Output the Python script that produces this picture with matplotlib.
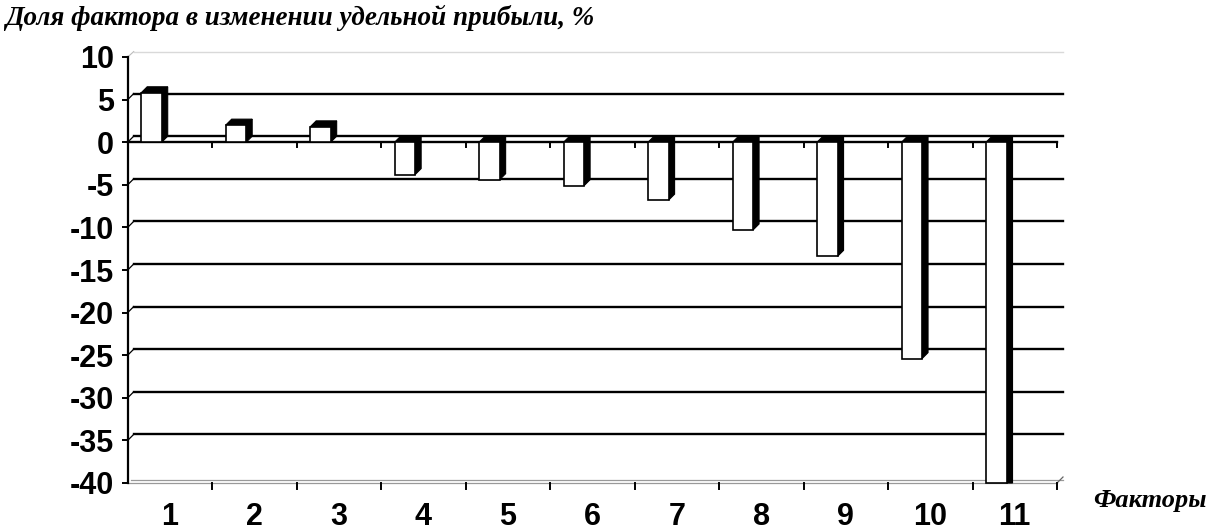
import matplotlib
matplotlib.use("Agg")
import matplotlib.pyplot as plt
from matplotlib.patches import Polygon, Rectangle
import numpy as np

# ---- data ----
categories = ["1", "2", "3", "4", "5", "6", "7", "8", "9", "10", "11"]
values = [5.8, 2.0, 1.8, -3.8, -4.4, -5.1, -6.8, -10.3, -13.4, -25.4, -40.0]
y_ticks = [10, 5, 0, -5, -10, -15, -20, -25, -30, -35, -40]
title = "Доля фактора в изменении удельной прибыли, %"
x_label = "Факторы"

W, H, DPI = 1209, 531, 100
fig = plt.figure(figsize=(W / DPI, H / DPI), dpi=DPI)

ax_l, ax_r, ax_t, ax_b = 127.7, 1057.0, 57.0, 483.0
ax = fig.add_axes([ax_l / W, (H - ax_b) / H, (ax_r - ax_l) / W, (ax_b - ax_t) / H])
n = len(categories)
ax.set_xlim(0.5, n + 0.5)
ax.set_ylim(min(y_ticks), max(y_ticks))
for s in ["top", "right", "bottom"]:
    ax.spines[s].set_visible(False)
ax.spines["left"].set_linewidth(1.6)
ax.spines["left"].set_zorder(6)

# pixel -> data conversion for the 3D depth offset
px_x = (ax_r - ax_l) / n
px_y = (ax_b - ax_t) / (max(y_ticks) - min(y_ticks))
depth_px = 6.0
dx = depth_px / px_x
dy = depth_px / px_y
ymin, ymax = min(y_ticks), max(y_ticks)

# back wall gridlines
for v in y_ticks:
    if v == ymax:
        ax.plot([0.5 + dx, n + 0.5 + dx], [v + dy * 0.9, v + dy * 0.9], color="#d9d9d9", lw=1.0, zorder=1, clip_on=False)
        ax.plot([0.5, 0.5 + dx], [v, v + dy * 0.9], color="#bbbbbb", lw=0.8, zorder=1, clip_on=False)
    elif v == ymin:
        ax.plot([0.5 + dx * 0.5, n + 0.5 + dx], [v + 3 / px_y, v + 3 / px_y], color="#999999", lw=0.9, zorder=1, clip_on=False)
        ax.plot([0.5, n + 0.5], [v, v], color="#999999", lw=0.9, zorder=1, clip_on=False)
        ax.plot([n + 0.5, n + 0.5 + dx], [v, v + dy], color="#666666", lw=0.9, zorder=1, clip_on=False)
    else:
        ax.plot([0.5 + dx, n + 0.5 + dx], [v + dy, v + dy], color="black", lw=1.7, zorder=1, clip_on=False)
        ax.plot([0.5, 0.5 + dx], [v, v + dy], color="black", lw=0.9, zorder=1, clip_on=False)

# front zero line with ticks between categories
ax.plot([0.5, n + 0.5], [0, 0], color="black", lw=1.7, zorder=2, clip_on=False)
tick_len = 5 / px_y
for b in np.arange(1.5, n + 0.5 + 0.01, 1.0):
    ax.plot([b, b], [0, -tick_len], color="black", lw=1.4, zorder=2, clip_on=False)

# bars (front face + black side/top)
off_l = 13.5 / px_x
bw = 20.5 / px_x
for i, v in enumerate(values):
    c = i + 1
    x0 = c - 0.5 + off_l
    x1 = x0 + bw
    top = max(v, 0)
    bot = min(v, 0)
    side = Polygon([(x1, bot), (x1, top), (x1 + dx, top + dy), (x1 + dx, bot + dy)],
                   closed=True, facecolor="black", edgecolor="black", lw=0.8, zorder=4, clip_on=False)
    topf = Polygon([(x0, top), (x1, top), (x1 + dx, top + dy), (x0 + dx, top + dy)],
                   closed=True, facecolor="black", edgecolor="black", lw=0.8, zorder=4, clip_on=False)
    front = Rectangle((x0, bot), bw, top - bot, facecolor="white", edgecolor="black", lw=1.2, zorder=5, clip_on=False)
    if v < 0 and bot <= ymin:
        side.set_xy([(x1, bot), (x1, top), (x1 + dx, top + dy), (x1 + dx, bot)])
    ax.add_patch(side)
    ax.add_patch(topf)
    ax.add_patch(front)

# y axis ticks
ax.set_yticks(y_ticks)
ax.set_yticklabels([str(t) for t in y_ticks])
ax.tick_params(axis="y", direction="out", length=4, width=1.4, pad=6,
               labelsize=22)
for lab in ax.get_yticklabels():
    lab.set_fontweight("bold")
    lab.set_family("Liberation Sans")

# x axis: labels at centers, ticks at boundaries (drawn at the floor)
ax.set_xticks(range(1, n + 1))
ax.set_xticklabels(categories)
ax.tick_params(axis="x", length=0, pad=14, labelsize=22)
for lab in ax.get_xticklabels():
    lab.set_fontweight("bold")
    lab.set_family("Liberation Sans")
for b in np.arange(0.5, n + 0.5 + 0.01, 1.0):
    if b == 0.5:
        continue
    ax.plot([b, b], [ymin, ymin - 6 / px_y], color="black", lw=1.4, zorder=2, clip_on=False)

# titles
fig.text(5 / W, 1 - 18 / H, title, fontsize=19.5, fontweight="bold", fontstyle="italic",
         family="Liberation Serif", ha="left", va="center")
fig.text(1093 / W, 1 - 501 / H, x_label, fontsize=19, fontweight="bold", fontstyle="italic",
         family="Liberation Serif", ha="left", va="center")

fig.savefig("out.png", dpi=DPI)
